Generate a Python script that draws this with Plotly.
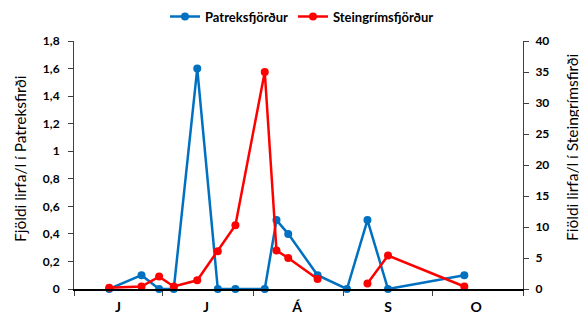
import plotly.graph_objects as go

dates = ["2015-06-13", "2015-06-24", "2015-06-30", "2015-07-05", "2015-07-13",
         "2015-07-20", "2015-07-26", "2015-08-05", "2015-08-09", "2015-08-13",
         "2015-08-23", "2015-09-02", "2015-09-09", "2015-09-16", "2015-10-12"]
patreks = [0, 0.1, 0, 0, 1.6, 0, 0, 0, 0.5, 0.4, 0.1, 0, 0.5, 0, 0.1]
steingr = [0.2, 0.4, 2.0, 0.4, 1.4, 6.1, 10.3, 35, 6.2, 5.0, 1.6, None, 0.9, 5.4, 0.4]

month_mid = ["2015-06-16", "2015-07-16", "2015-08-16", "2015-09-16", "2015-10-16"]
month_lbl = ["J", "J", "Á", "S", "O"]
month_starts = ["2015-06-01", "2015-07-01", "2015-08-01", "2015-09-01", "2015-10-01", "2015-11-01"]

left_title = "Fjöldi lirfa/l í Patreksfirði"
right_title = "Fiöldi lirfa/l í Steingrímsfirði"

BLUE = "#0070C0"
RED = "#FF0000"
FONT = "Lato"
OFF = 8  # page body margin
W, H = 587 - OFF, 321 - OFF
ML, MR, MT, MB = 74 - OFF, 64, 41 - OFF, 32
PW = W - ML - MR
PH = H - MT - MB

fig = go.Figure()
fig.add_trace(go.Scatter(x=dates, y=patreks, name="Patreksfjörður", mode="lines+markers",
                         line=dict(color=BLUE, width=2.5), marker=dict(color=BLUE, size=8),
                         yaxis="y", cliponaxis=False))
fig.add_trace(go.Scatter(x=dates, y=steingr, name="Steingrímsfjörður", mode="lines+markers",
                         line=dict(color=RED, width=2.5), marker=dict(color=RED, size=8),
                         yaxis="y2", connectgaps=False, cliponaxis=False))

axis_col = "#404040"


def py(win_y):
    return 1 - (win_y - OFF - MT) / PH


def px(win_x):
    return (win_x - OFF - ML) / PW


fig.update_layout(
    width=W, height=H,
    margin=dict(l=ML, r=MR, t=MT, b=MB, autoexpand=False),
    paper_bgcolor="white", plot_bgcolor="white",
    separators=",.",
    font=dict(family=FONT, color="#000000"),
    showlegend=True,
    legend=dict(orientation="h", xref="container", yref="container",
                x=(302 - OFF) / W, xanchor="center", y=1 - (16.5 - OFF) / H, yanchor="middle",
                font=dict(size=13, family=FONT, weight="bold"),
                itemwidth=30, tracegroupgap=0),
    xaxis=dict(type="date", range=["2015-06-01", "2015-11-01"],
               tickmode="array", tickvals=month_mid, ticktext=month_lbl,
               ticks="", showgrid=False, zeroline=False,
               showline=True, linecolor="#000000", linewidth=1.5,
               tickfont=dict(size=14, family=FONT, weight="bold"),
               ticklabelstandoff=4,
               minor=dict(tickmode="array", tickvals=month_starts, ticks="outside",
                          ticklen=5, tickcolor=axis_col, tickwidth=1, showgrid=False)),
    yaxis=dict(range=[0, 1.8], dtick=0.2, tick0=0, showgrid=False, zeroline=False,
               showline=True, linecolor=axis_col, linewidth=1,
               ticks="outside", ticklen=5, tickcolor=axis_col,
               tickfont=dict(size=12, family=FONT, weight="bold"),
               ticklabelstandoff=6, automargin=False),
    yaxis2=dict(range=[0, 40], dtick=5, tick0=0, overlaying="y", side="right",
                showgrid=False, zeroline=False,
                showline=True, linecolor=axis_col, linewidth=1,
                ticks="outside", ticklen=5, tickcolor=axis_col,
                tickfont=dict(size=12, family=FONT, weight="bold"),
                ticklabelstandoff=4, automargin=False),
    annotations=[
        dict(text=left_title, xref="paper", yref="paper", x=px(20), y=py(159),
             xanchor="center", yanchor="middle", textangle=-90, showarrow=False,
             font=dict(size=15.5, family=FONT)),
        dict(text=right_title, xref="paper", yref="paper", x=px(572), y=py(148),
             xanchor="center", yanchor="middle", textangle=-90, showarrow=False,
             font=dict(size=15.5, family=FONT)),
    ],
)

fig.write_html("out.html")
